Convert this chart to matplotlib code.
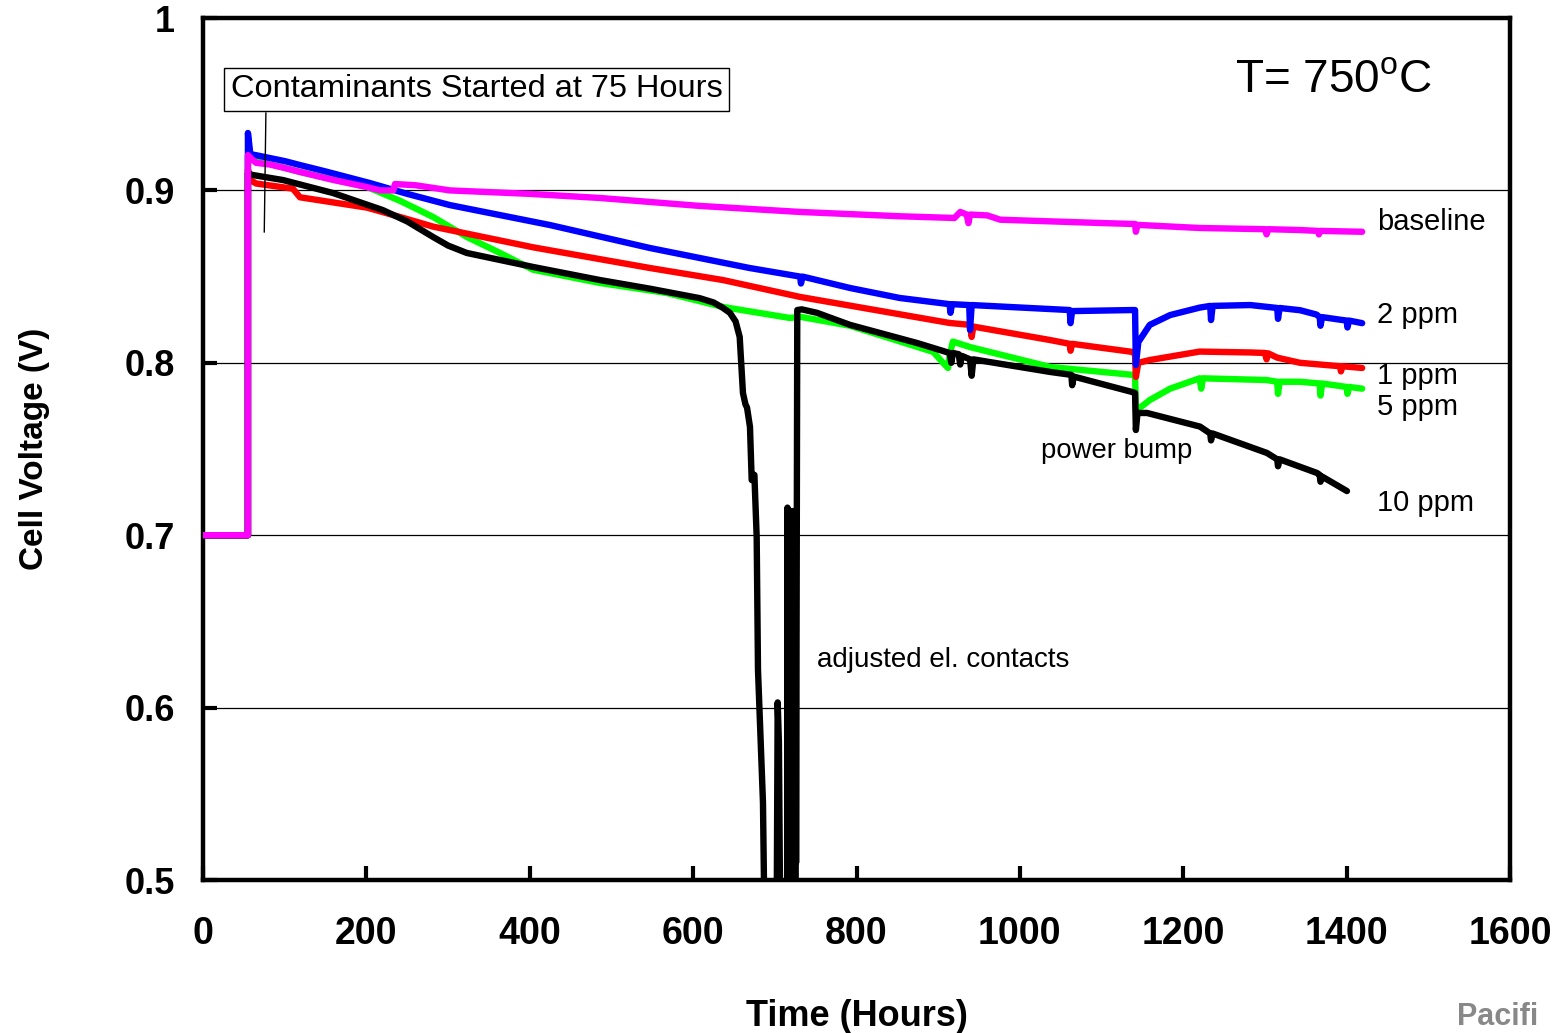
import matplotlib
matplotlib.use("Agg")
import matplotlib.pyplot as plt

plt.rcParams['font.family'] = ['Liberation Sans', 'DejaVu Sans']
plt.rcParams['mathtext.fontset'] = 'custom'
plt.rcParams['mathtext.rm'] = 'Liberation Sans'

# ---------------- data (hours, volts) ----------------
baseline_t = [0, 55, 55, 60, 65, 82, 100, 118.7, 160, 200, 216.7, 233, 235, 260, 302, 400, 486, 608, 731, 853,
              920, 927, 935, 937, 939, 960, 976, 1098, 1141, 1142, 1144, 1220, 1300, 1302, 1304, 1343, 1365, 1366, 1368, 1419]
baseline_v = [0.7, 0.7, 0.9205, 0.918, 0.916, 0.915, 0.913, 0.9107, 0.906, 0.902, 0.900, 0.900, 0.9037, 0.903, 0.900, 0.898, 0.8956, 0.891, 0.8875, 0.885,
              0.884, 0.8875, 0.886, 0.881, 0.886, 0.8855, 0.883, 0.8811, 0.8805, 0.876, 0.880, 0.8782, 0.8775, 0.8745, 0.8775, 0.877, 0.8765, 0.8745, 0.8765, 0.876]

ppm2_t = [0, 55, 55, 58, 64, 100, 118.7, 150, 204, 250, 302, 424.8, 547, 669, 731, 732, 734, 792, 853, 914, 915, 917, 938, 939, 941,
          1061, 1062, 1064, 1138, 1141, 1142, 1145, 1159, 1184, 1220, 1233, 1234, 1236, 1282, 1315, 1316, 1318, 1343, 1363, 1367, 1368, 1370, 1392, 1400, 1401, 1403, 1419]
ppm2_v = [0.7, 0.7, 0.9333, 0.921, 0.9205, 0.917, 0.9147, 0.911, 0.9043, 0.898, 0.8915, 0.8799, 0.8666, 0.855, 0.850, 0.846, 0.850, 0.8434, 0.8376, 0.834, 0.829, 0.834, 0.8335, 0.819, 0.8335,
          0.8306, 0.823, 0.830, 0.8306, 0.8306, 0.7987, 0.812, 0.822, 0.8277, 0.832, 0.833, 0.8248, 0.833, 0.8335, 0.8318, 0.8255, 0.8318, 0.8305, 0.828, 0.8265, 0.8215, 0.8265, 0.825, 0.8245, 0.8205, 0.8245, 0.823]

ppm1_t = [0, 55, 55, 58, 65, 110, 118.7, 200.8, 241, 281.6, 404, 547, 636.5, 731, 914, 939, 941, 943, 1037, 1061, 1062, 1064,
          1138, 1141, 1142, 1145, 1159, 1220, 1282, 1300, 1302, 1304, 1315, 1343, 1392, 1393, 1395, 1419]
ppm1_v = [0.7, 0.7, 0.912, 0.906, 0.904, 0.901, 0.896, 0.890, 0.8846, 0.879, 0.867, 0.855, 0.848, 0.8382, 0.8231, 0.822, 0.815, 0.821, 0.8132, 0.811, 0.807, 0.811,
          0.8063, 0.805, 0.7918, 0.800, 0.8016, 0.8065, 0.806, 0.8057, 0.802, 0.8055, 0.803, 0.800, 0.798, 0.795, 0.798, 0.797]

ppm5_t = [0, 55, 55, 64, 118.7, 200.8, 241, 281.6, 323, 363.6, 404, 486, 567.6, 636.5, 718.6, 731, 792, 894, 905, 912, 914, 918, 940,
          1037, 1138, 1141, 1142, 1150, 1159, 1184, 1220, 1222, 1224, 1302, 1315, 1316, 1318, 1343, 1367, 1368, 1370, 1400, 1401, 1403, 1419]
ppm5_v = [0.7, 0.7, 0.920, 0.9176, 0.9107, 0.902, 0.894, 0.8846, 0.873, 0.8637, 0.854, 0.8463, 0.8405, 0.8324, 0.826, 0.8267, 0.8215, 0.8063, 0.8005, 0.797, 0.8045, 0.8123, 0.809,
          0.7976, 0.793, 0.7935, 0.7726, 0.775, 0.7784, 0.785, 0.791, 0.785, 0.791, 0.790, 0.789, 0.782, 0.789, 0.789, 0.788, 0.781, 0.788, 0.786, 0.782, 0.786, 0.785]

ppm10_t = [0, 55, 55, 60, 98, 159, 220, 250, 281.6, 300, 323, 360, 404, 486, 547, 608, 625, 636, 645, 652, 657, 661, 664, 666, 669.6, 671.7, 675, 677.8, 679.4, 685.5, 686.7,
           690, 702, 703.5, 705, 707, 715,
           715.5, 716, 716.5, 717, 717.5, 718, 718.5, 719, 719.5, 720, 720.5, 721, 721.5, 722, 722.5, 723, 723.5, 724, 724.5, 725, 725.5, 726,
           727.5,
           733, 751.6, 792, 874, 914, 916, 918, 925, 927, 929, 939, 941, 943, 1037, 1063, 1064, 1066, 1138, 1141, 1142, 1144, 1155.6, 1220.5,
           1233, 1234, 1236, 1302.5, 1315, 1316, 1318, 1363.7, 1367, 1368, 1370, 1400.4]
ppm10_v = [0.7, 0.7, 0.910, 0.909, 0.906, 0.8985, 0.8886, 0.882, 0.873, 0.868, 0.8637, 0.860, 0.8556, 0.848, 0.843, 0.8375, 0.835, 0.832, 0.829, 0.824, 0.815, 0.7825, 0.776, 0.774, 0.7628, 0.732, 0.735, 0.699, 0.622, 0.545, 0.5,
           0.45, 0.45, 0.603, 0.58, 0.45, 0.45,
           0.716, 0.47, 0.715, 0.47, 0.714, 0.47, 0.712, 0.48, 0.714, 0.47, 0.713, 0.48, 0.714, 0.47, 0.712, 0.49, 0.714, 0.49, 0.713, 0.50, 0.714, 0.51,
           0.8306,
           0.831, 0.829, 0.822, 0.8115, 0.8057, 0.800, 0.8057, 0.805, 0.799, 0.804, 0.802, 0.7925, 0.802, 0.7947, 0.793, 0.787, 0.792, 0.783, 0.7825, 0.761, 0.7709, 0.7709, 0.763,
           0.759, 0.755, 0.759, 0.7477, 0.744, 0.740, 0.744, 0.7361, 0.735, 0.731, 0.734, 0.7256]

series_labels = ['baseline', '2 ppm', '1 ppm', '5 ppm', '10 ppm']
label_y = [0.8817, 0.8277, 0.7923, 0.7744, 0.7187]
xticks = [0, 200, 400, 600, 800, 1000, 1200, 1400, 1600]
yticks = [0.5, 0.6, 0.7, 0.8, 0.9, 1.0]
ytick_labels = ['0.5', '0.6', '0.7', '0.8', '0.9', '1']

# ---------------- figure ----------------
fig = plt.figure(figsize=(15.52, 10.33), dpi=100)
ax = fig.add_axes([203/1552, 1-880/1033, (1510-203)/1552, (880-18)/1033])

for yg in [0.6, 0.7, 0.8, 0.9]:
    ax.axhline(yg, color='black', lw=0.9, zorder=1)

lw = 4.6
kw = dict(lw=lw, solid_joinstyle='round', solid_capstyle='round')
ax.plot(ppm5_t, ppm5_v, color='#00ff00', zorder=2, **kw)
ax.plot(ppm1_t, ppm1_v, color='#ff0000', zorder=3, **kw)
ax.plot(ppm2_t, ppm2_v, color='#0000ff', zorder=4, **kw)
ax.plot(ppm10_t, ppm10_v, color='black', zorder=5, **kw)
ax.plot(baseline_t, baseline_v, color='#ff00ff', zorder=6, **kw)

ax.set_xlim(0, 1600)
ax.set_ylim(0.5, 1.0)
ax.set_xticks(xticks)
ax.set_yticks(yticks)
ax.set_yticklabels(ytick_labels)
ax.tick_params(direction='in', length=10, width=3, labelsize=26, pad=20)
ax.tick_params(axis='x', labelsize=27, pad=26)
for lab in ax.get_xticklabels() + ax.get_yticklabels():
    lab.set_fontweight('bold')
for sp in ax.spines.values():
    sp.set_linewidth(3.2)

ax.set_xlabel('Time (Hours)', fontsize=26, fontweight='bold', labelpad=34)
ax.set_ylabel('Cell Voltage (V)', fontsize=24, fontweight='bold', labelpad=54)

for lab, yv in zip(series_labels, label_y):
    ax.text(1437, yv, lab, fontsize=21, va='center', ha='left')

ax.text(1119, 0.7488, 'power bump', fontsize=19.8, ha='center', va='center')
ax.text(751.6, 0.6276, 'adjusted el. contacts', fontsize=20, ha='left', va='center')
ax.text(1263, 0.964, r'T= 750$^{\mathrm{o}}$C', fontsize=33, ha='left', va='center')

ax.text(334.8, 0.9588, 'Contaminants Started at 75 Hours', fontsize=23.4, ha='center', va='center',
        bbox=dict(boxstyle='square,pad=0.2', facecolor='white', edgecolor='black', lw=1), zorder=7)
ax.plot([77, 75], [0.9449, 0.8759], color='black', lw=1, zorder=7)

fig.text(1457/1552, 1/1033, 'Pacifi', fontsize=22, fontweight='bold', color='#888888',
         ha='left', va='bottom')

fig.savefig('out.png', dpi=100)
